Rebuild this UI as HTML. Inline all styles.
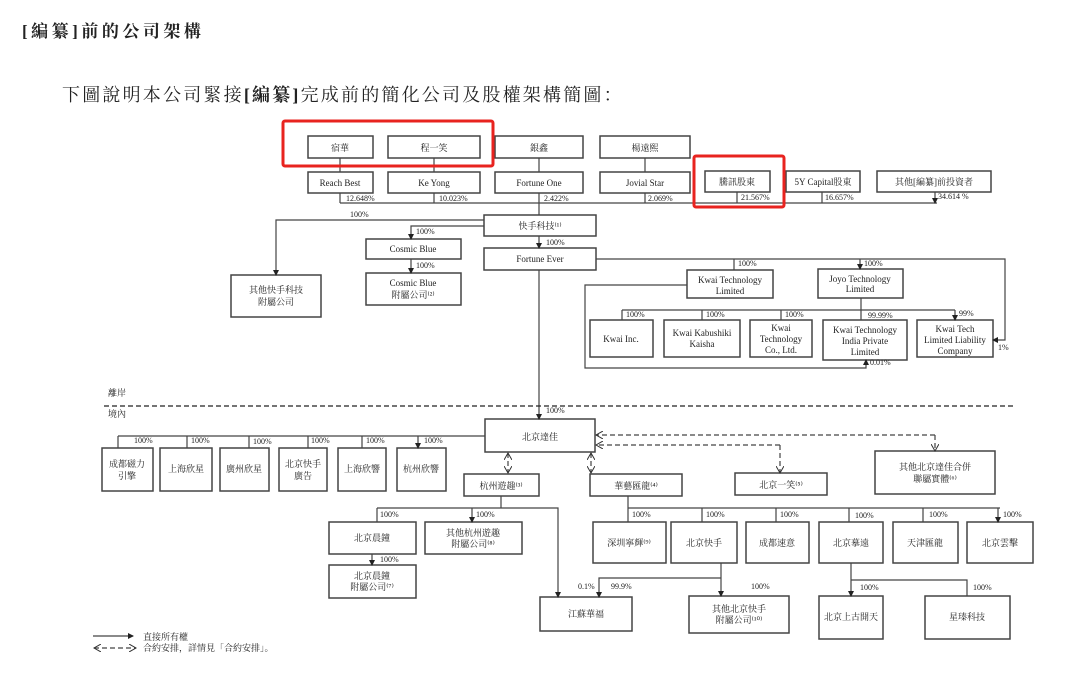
<!DOCTYPE html>
<html><head><meta charset="utf-8"><style>
body{margin:0;background:#fff;width:1071px;height:680px;overflow:hidden}
svg text{font-family:"Liberation Serif","Noto Serif CJK SC",serif;fill:#222}
</style></head><body>
<svg width="1071" height="680" viewBox="0 0 1071 680" xmlns="http://www.w3.org/2000/svg">
<defs>
<marker id="a" markerWidth="6" markerHeight="6" refX="5" refY="3" orient="auto" markerUnits="userSpaceOnUse"><path d="M0,0 L6,3 L0,6z" fill="#222"/></marker>
<marker id="o" markerWidth="8" markerHeight="8" refX="7" refY="4" orient="auto" markerUnits="userSpaceOnUse"><path d="M0,0 L7,4 L0,8" fill="none" stroke="#333"/></marker>
<marker id="os" markerWidth="8" markerHeight="8" refX="1" refY="4" orient="auto" markerUnits="userSpaceOnUse"><path d="M8,0 L1,4 L8,8" fill="none" stroke="#333"/></marker>
</defs>
<text x="22" y="37" font-size="17" font-weight="bold" style="letter-spacing:3.5px">[編纂]前的公司架構</text>
<text x="62" y="101" font-size="18" style="letter-spacing:2.2px">下圖說明本公司緊接<tspan font-weight="bold">[編纂]</tspan>完成前的簡化公司及股權架構簡圖：</text>

<g fill="#fff" stroke="#444" stroke-width="1.5">
<rect x="308" y="136" width="65" height="22"/><rect x="388" y="136" width="92" height="22"/><rect x="495" y="136" width="88" height="22"/><rect x="600" y="136" width="90" height="22"/>
<rect x="308" y="172" width="65" height="21"/><rect x="388" y="172" width="92" height="21"/><rect x="495" y="172" width="88" height="21"/><rect x="600" y="172" width="90" height="21"/>
<rect x="705" y="171" width="65" height="21"/><rect x="786" y="171" width="74" height="21"/><rect x="877" y="171" width="114" height="21"/>
<rect x="484" y="215" width="112" height="21"/><rect x="231" y="275" width="90" height="42"/><rect x="366" y="239" width="95" height="20"/><rect x="366" y="273" width="95" height="32"/>
<rect x="484" y="248" width="112" height="22"/>
<rect x="687" y="270" width="86" height="28"/><rect x="818" y="269" width="85" height="29"/>
<rect x="590" y="320" width="63" height="37"/><rect x="664" y="320" width="76" height="37"/><rect x="750" y="320" width="62" height="37"/><rect x="823" y="320" width="84" height="40"/><rect x="917" y="320" width="76" height="37"/>
<rect x="485" y="419" width="110" height="33"/>
<rect x="102" y="448" width="51" height="43"/><rect x="160" y="448" width="52" height="43"/><rect x="220" y="448" width="49" height="43"/><rect x="279" y="448" width="48" height="43"/><rect x="338" y="448" width="48" height="43"/><rect x="397" y="448" width="49" height="43"/>
<rect x="464" y="474" width="75" height="22"/><rect x="590" y="474" width="92" height="22"/><rect x="735" y="473" width="92" height="22"/><rect x="875" y="451" width="120" height="43"/>
<rect x="329" y="522" width="87" height="32"/><rect x="425" y="522" width="97" height="32"/><rect x="329" y="565" width="87" height="33"/><rect x="540" y="597" width="92" height="34"/>
<rect x="593" y="522" width="73" height="41"/><rect x="671" y="522" width="66" height="41"/><rect x="746" y="522" width="63" height="41"/><rect x="819" y="522" width="64" height="41"/><rect x="893" y="522" width="65" height="41"/><rect x="967" y="522" width="66" height="41"/>
<rect x="689" y="596" width="100" height="37"/><rect x="819" y="596" width="64" height="43"/><rect x="925" y="596" width="85" height="43"/>
</g>

<g stroke="#444" stroke-width="1.2" fill="none">
<path d="M340 158V172M434 158V172M539 158V172M645 158V172"/>
<path d="M340 203H937"/>
<path d="M340 193V203M434 193V203M539 193V215M645 193V203M737 192V203M822 192V203M935 192V203" marker-end="url(#a)"/>
<path d="M484 220H276V275" marker-end="url(#a)"/>
<path d="M484 226H411V239" marker-end="url(#a)"/>
<path d="M411 259V273" marker-end="url(#a)"/>
<path d="M539 236V248" marker-end="url(#a)"/>
<path d="M596 259H1005V340H993" marker-end="url(#a)"/>
<path d="M734 259V270M860 259V269" marker-end="url(#a)"/>
<path d="M687 285H585V368H866V360" marker-end="url(#a)"/>
<path d="M861 298V310M622 310H955"/>
<path d="M622 310V320M702 310V320M781 310V320M861 310V320M955 310V320" marker-end="url(#a)"/>
<path d="M539 270V419" marker-end="url(#a)"/>
<path d="M485 436H118"/>
<path d="M118 436V448M187 436V448M249 436V448M308 436V448M362 436V448M418 436V448" marker-end="url(#a)"/>
<path d="M501 496V508M377 508H558V597" marker-end="url(#a)"/>
<path d="M377 508V522M472 508V522" marker-end="url(#a)"/>
<path d="M372 554V565" marker-end="url(#a)"/>
<path d="M628 496V508M628 508H1000"/>
<path d="M628 508V522M702 508V522M776 508V522M849 508V522M923 508V522M998 508V522" marker-end="url(#a)"/>
<path d="M721 563V596" marker-end="url(#a)"/>
<path d="M721 578H599V597" marker-end="url(#a)"/>
<path d="M851 563V580H967V596M851 580V596" marker-end="url(#a)"/>
<path d="M93 636H133" marker-end="url(#a)"/>
</g>
<g stroke="#444" stroke-width="1.2" fill="none" stroke-dasharray="5,3">
<path d="M104 406H1013" stroke="#222"/>
<path d="M935 435H596" marker-end="url(#o)"/>
<path d="M935 435V451" marker-end="url(#o)"/>
<path d="M780 445H596" marker-end="url(#o)"/>
<path d="M780 445V473" marker-end="url(#o)"/>
<path d="M508 453V473" marker-start="url(#os)" marker-end="url(#o)"/>
<path d="M591 453V473" marker-start="url(#os)" marker-end="url(#o)"/>
<path d="M94 648H136" marker-start="url(#os)" marker-end="url(#o)"/>
</g>

<g font-size="9" text-anchor="middle">
<text x="340" y="151">宿華</text><text x="434" y="151">程一笑</text><text x="539" y="151">銀鑫</text><text x="645" y="151">楊遠熙</text>
<text x="340" y="186">Reach Best</text><text x="434" y="186">Ke Yong</text><text x="539" y="186">Fortune One</text><text x="645" y="186">Jovial Star</text>
<text x="737" y="185">騰訊股東</text><text x="823" y="185">5Y Capital股東</text><text x="934" y="185">其他[編纂]前投資者</text>
<text x="540" y="229">快手科技⁽¹⁾</text><text x="540" y="262">Fortune Ever</text>
<text x="276" y="293">其他快手科技</text><text x="276" y="305">附屬公司</text>
<text x="413" y="252">Cosmic Blue</text><text x="413" y="286">Cosmic Blue</text><text x="413" y="298">附屬公司⁽²⁾</text>
<text x="730" y="283">Kwai Technology</text><text x="730" y="294">Limited</text>
<text x="860" y="282">Joyo Technology</text><text x="860" y="292">Limited</text>
<text x="621" y="342">Kwai Inc.</text>
<text x="702" y="336">Kwai Kabushiki</text><text x="702" y="347">Kaisha</text>
<text x="781" y="331">Kwai</text><text x="781" y="342">Technology</text><text x="781" y="353">Co., Ltd.</text>
<text x="865" y="333">Kwai Technology</text><text x="865" y="344">India Private</text><text x="865" y="355">Limited</text>
<text x="955" y="332">Kwai Tech</text><text x="955" y="343">Limited Liability</text><text x="955" y="354">Company</text>
<text x="540" y="440">北京達佳</text>
<text x="127" y="467">成都磁力</text><text x="127" y="479">引擎</text>
<text x="186" y="472">上海欣星</text><text x="244" y="472">廣州欣星</text>
<text x="303" y="467">北京快手</text><text x="303" y="479">廣告</text>
<text x="362" y="472">上海欣響</text><text x="421" y="472">杭州欣響</text>
<text x="501" y="489">杭州遊趣⁽³⁾</text><text x="636" y="489">華藝匯龍⁽⁴⁾</text><text x="781" y="488">北京一笑⁽⁵⁾</text>
<text x="935" y="470">其他北京達佳合併</text><text x="935" y="482">聯屬實體⁽⁶⁾</text>
<text x="372" y="541">北京晨鐘</text>
<text x="473" y="536">其他杭州遊趣</text><text x="473" y="547">附屬公司⁽⁸⁾</text>
<text x="372" y="579">北京晨鐘</text><text x="372" y="590">附屬公司⁽⁷⁾</text>
<text x="586" y="617">江蘇華福</text>
<text x="629" y="546">深圳寧輝⁽⁹⁾</text><text x="704" y="546">北京快手</text><text x="777" y="546">成都速意</text><text x="851" y="546">北京摹遠</text><text x="925" y="546">天津匯龍</text><text x="1000" y="546">北京雲擊</text>
<text x="739" y="612">其他北京快手</text><text x="739" y="623">附屬公司⁽¹⁰⁾</text>
<text x="851" y="620">北京上古開天</text><text x="967" y="620">星瑧科技</text>
</g>
<g font-size="8">
<text x="346" y="201">12.648%</text><text x="439" y="201">10.023%</text><text x="544" y="201">2.422%</text><text x="648" y="201">2.069%</text><text x="741" y="200">21.567%</text><text x="825" y="200">16.657%</text><text x="938" y="199">34.614 %</text>
<text x="350" y="217">100%</text><text x="416" y="234">100%</text><text x="416" y="268">100%</text><text x="546" y="245">100%</text>
<text x="738" y="266">100%</text><text x="864" y="266">100%</text>
<text x="626" y="317">100%</text><text x="706" y="317">100%</text><text x="785" y="317">100%</text><text x="868" y="318">99.99%</text><text x="959" y="316">99%</text>
<text x="998" y="350">1%</text><text x="870" y="365">0.01%</text>
<text x="546" y="413">100%</text>
<text x="134" y="443">100%</text><text x="191" y="443">100%</text><text x="253" y="444">100%</text><text x="311" y="443">100%</text><text x="366" y="443">100%</text><text x="424" y="443">100%</text>
<text x="380" y="517">100%</text><text x="476" y="517">100%</text><text x="380" y="562">100%</text>
<text x="632" y="517">100%</text><text x="706" y="517">100%</text><text x="780" y="517">100%</text><text x="855" y="518">100%</text><text x="929" y="517">100%</text><text x="1003" y="517">100%</text>
<text x="578" y="589">0.1%</text><text x="611" y="589">99.9%</text><text x="751" y="589">100%</text><text x="860" y="590">100%</text><text x="973" y="590">100%</text>
<text x="108" y="396" font-size="9">離岸</text><text x="108" y="417" font-size="9">境內</text>
<text x="143" y="640" font-size="9">直接所有權</text><text x="143" y="651" font-size="9">合約安排，詳情見「合約安排」。</text>
</g>
<g fill="none" stroke="#e8231f" stroke-width="3">
<rect x="283" y="121" width="210" height="45" rx="2"/>
<rect x="694" y="156" width="90" height="51" rx="2"/>
</g>
</svg>
</body></html>
